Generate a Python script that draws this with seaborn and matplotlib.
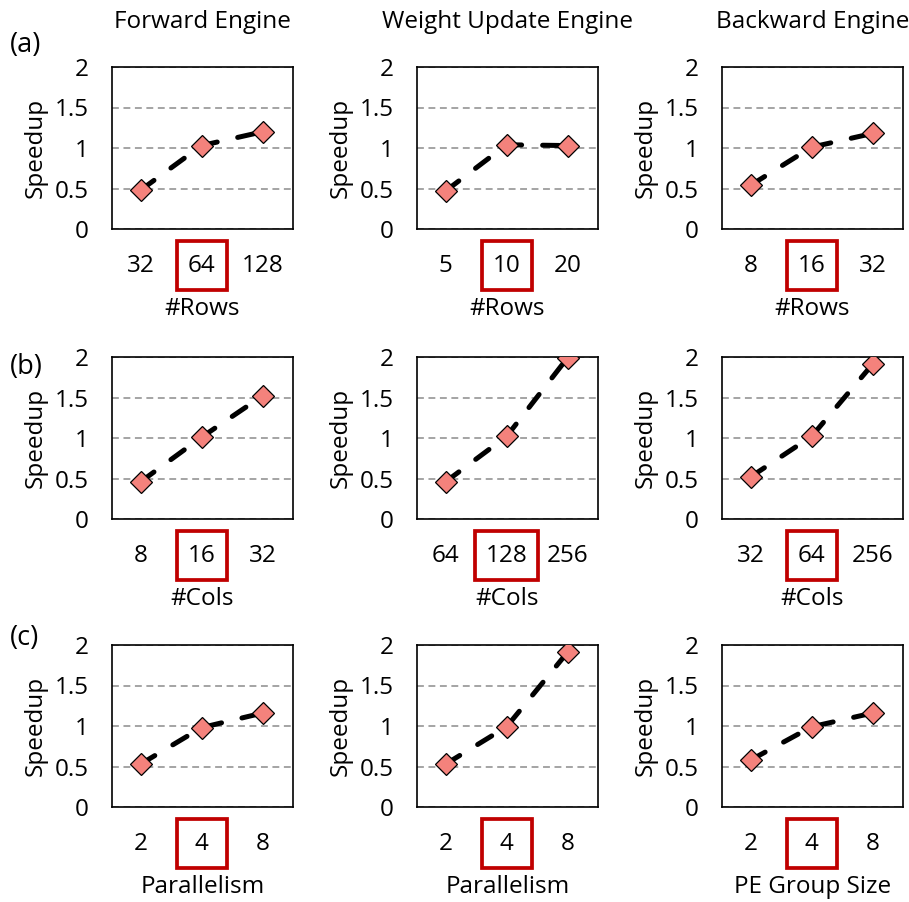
import matplotlib
matplotlib.use("Agg")
import matplotlib.pyplot as plt
import matplotlib.patches as mpatches
import seaborn as sns
import pandas as pd

# ---------------- data ----------------
engines = ["Forward Engine", "Weight Update Engine", "Backward Engine"]
panel_tags = ["(a)", "(b)", "(c)"]

rows_ticks = [["32", "64", "128"], ["5", "10", "20"], ["8", "16", "32"]]
rows_vals = [[0.48, 1.03, 1.20], [0.47, 1.04, 1.03], [0.54, 1.01, 1.18]]

cols_ticks = [["8", "16", "32"], ["64", "128", "256"], ["32", "64", "256"]]
cols_vals = [[0.46, 1.01, 1.52], [0.46, 1.02, 1.99], [0.52, 1.02, 1.91]]

par_ticks = [["2", "4", "8"], ["2", "4", "8"], ["2", "4", "8"]]
par_vals = [[0.53, 0.98, 1.16], [0.53, 0.99, 1.91], [0.58, 0.99, 1.16]]

row_xlabels = [["#Rows"] * 3, ["#Cols"] * 3, ["Parallelism", "Parallelism", "PE Group Size"]]
all_ticks = [rows_ticks, cols_ticks, par_ticks]
all_vals = [rows_vals, cols_vals, par_vals]

y_ticks = [0, 0.5, 1, 1.5, 2]
y_ticklabels = ["0", "0.5", "1", "1.5", "2"]
baseline_index = 1  # highlighted (red box) configuration

# ---------------- style ----------------
sns.set_theme(style="white")
plt.rcParams["font.family"] = ["Open Sans", "DejaVu Sans"]
FS = 17.5

W, H = 909, 902
fig = plt.figure(figsize=(W / 100, H / 100), dpi=100)

col_left = [112, 417, 722]
row_top = [67, 357, 645]
ax_w, ax_h = 181, 162

marker_color = "#F4827C"
box_color = "#C00000"

axes = []
for r in range(3):
    for c in range(3):
        left = col_left[c] / W
        bottom = 1 - (row_top[r] + ax_h) / H
        ax = fig.add_axes([left, bottom, ax_w / W, ax_h / H])
        df = pd.DataFrame({"pos": [0, 1, 2], "speedup": all_vals[r][c]})
        sns.lineplot(data=df, x="pos", y="speedup", ax=ax,
                     color="black", linewidth=3.6,
                     linestyle=(0, (3.3, 4.2)), dash_capstyle="round",
                     marker="D", markersize=11, markerfacecolor=marker_color,
                     markeredgecolor="black", markeredgewidth=0.9, zorder=3)
        ax.set_xlim(-0.47, 2.5)
        ax.set_ylim(0, 2)
        ax.set_xticks([0, 1, 2])
        ax.set_xticklabels(all_ticks[r][c], fontsize=FS, color="black")
        ax.set_yticks(y_ticks)
        ax.set_yticklabels(y_ticklabels, fontsize=FS, color="black")
        ax.tick_params(axis="both", length=0)
        ax.tick_params(axis="y", pad=17)
        ax.tick_params(axis="x", pad=18)
        ax.set_axisbelow(True)
        ax.yaxis.grid(True, color="#8c8c8c", linewidth=1.1, linestyle=(0, (4.5, 3)))
        ax.xaxis.grid(False)
        for sp in ax.spines.values():
            sp.set_visible(True)
            sp.set_color("black")
            sp.set_linewidth(1.2)
        ax.set_xlabel(row_xlabels[r][c], fontsize=FS, color="black", labelpad=14)
        ax.set_ylabel("Speedup", fontsize=FS, color="black", labelpad=5)
        if r == 0:
            ax.set_title(engines[c], fontsize=FS, color="black", pad=28)
        axes.append(ax)

# panel tags
tag_y = [45, 367, 638]
for t, yy in zip(panel_tags, tag_y):
    fig.text(10 / W, 1 - yy / H, t, fontsize=FS + 2, ha="left", va="center", color="black")

# red boxes around the baseline tick label
fig.canvas.draw()
renderer = fig.canvas.get_renderer()
inv = fig.transFigure.inverted()
for ax in axes:
    lab = ax.get_xticklabels()[baseline_index]
    bb = lab.get_window_extent(renderer)
    cx = (bb.x0 + bb.x1) / 2
    cy = (bb.y0 + bb.y1) / 2 + 1
    bw = max(50, bb.width + 22)
    bh = 49
    (fx0, fy0) = inv.transform((cx - bw / 2, cy - bh / 2))
    (fx1, fy1) = inv.transform((cx + bw / 2, cy + bh / 2))
    rect = mpatches.Rectangle((fx0, fy0), fx1 - fx0, fy1 - fy0,
                              transform=fig.transFigure, fill=False,
                              edgecolor=box_color, linewidth=2.7)
    fig.add_artist(rect)

fig.savefig("out.png", dpi=100)
